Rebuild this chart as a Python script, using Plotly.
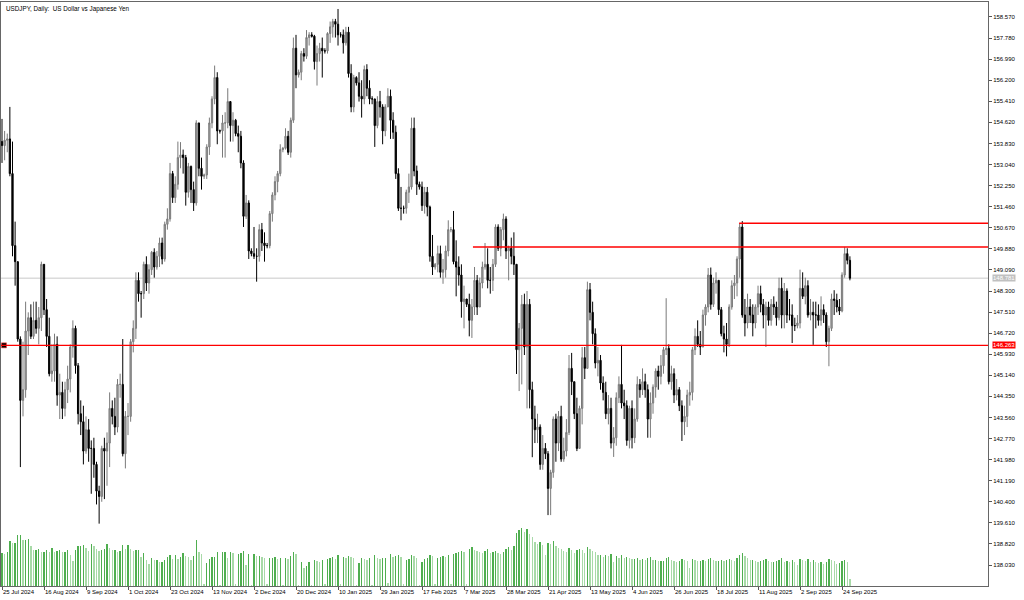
import plotly.graph_objects as go

# ---------------- data ----------------
date_tick_labels = ["25 Jul 2024", "16 Aug 2024", "9 Sep 2024", "1 Oct 2024", "23 Oct 2024",
                    "13 Nov 2024", "2 Dec 2024", "20 Dec 2024", "10 Jan 2025", "29 Jan 2025",
                    "17 Feb 2025", "7 Mar 2025", "28 Mar 2025", "21 Apr 2025", "13 May 2025",
                    "4 Jun 2025", "26 Jun 2025", "18 Jul 2025", "11 Aug 2025", "2 Sep 2025",
                    "24 Sep 2025"]
bars_per_date_tick = 16

price_tick_labels = ["158.570", "157.780", "156.990", "156.200", "155.410", "154.620", "153.830",
                     "153.040", "152.250", "151.460", "150.670", "149.880", "149.090", "148.300",
                     "147.510", "146.720", "145.930", "145.140", "144.350", "143.560", "142.770",
                     "141.980", "141.190", "140.400", "139.610", "138.820", "138.030"]

first_open = 153.90

highs = [
    154.75, 154.30, 154.20, 155.20, 153.90, 150.90, 149.40, 146.60, 146.40, 147.90,
    147.50, 147.80, 147.90, 147.90, 147.70, 149.40, 149.20, 148.00, 147.30, 146.30,
    146.70, 146.60, 145.20, 144.90, 144.90, 145.50, 146.30, 147.20, 147.00, 145.60,
    144.20, 144.00, 143.60, 143.50, 142.70, 142.80, 141.90, 141.00, 142.50, 142.80,
    143.00, 144.50, 144.20, 144.30, 145.00, 145.20, 146.50, 143.80, 144.10, 146.50,
    147.20, 149.00, 149.00, 148.30, 149.40, 149.60, 149.30, 149.80, 149.90, 149.80,
    150.30, 150.30, 150.90, 151.40, 153.10, 152.80, 152.60, 153.90, 153.88, 153.60,
    153.40, 153.10, 153.00, 152.40, 154.70, 154.60, 153.30, 152.70, 153.80, 154.80,
    155.60, 156.75, 156.50, 154.35, 154.90, 155.00, 155.90, 155.30, 155.00, 154.75,
    154.50, 154.30, 153.20, 151.90, 151.70, 149.90, 150.70, 149.90, 150.80, 150.85,
    150.50, 150.10, 151.30, 152.00, 152.60, 152.80, 153.80, 153.70, 154.40, 154.30,
    154.80, 157.80, 157.90, 156.60, 157.30, 157.40, 158.08, 158.00, 158.00, 157.90,
    157.50, 157.60, 157.80, 157.40, 158.00, 158.40, 158.50, 158.50, 158.87, 158.00,
    158.10, 158.20, 158.20, 156.80, 156.40, 156.35, 156.50, 156.20, 156.75, 156.80,
    156.20, 155.60, 155.50, 155.60, 155.80, 155.30, 155.30, 155.90, 155.85, 155.00,
    154.50, 152.90, 152.20, 151.50, 152.10, 152.70, 154.80, 154.80, 153.00, 152.40,
    152.40, 152.20, 152.20, 151.50, 150.40, 149.35, 150.00, 150.00, 149.50, 150.00,
    150.95, 150.70, 151.30, 150.20, 149.60, 149.30, 148.50, 148.00, 148.20, 148.00,
    149.20, 148.90, 148.80, 149.40, 150.10, 149.90, 149.20, 149.50, 150.80, 150.80,
    150.70, 151.20, 151.10, 150.00, 150.30, 150.50, 149.30, 147.10, 148.15, 148.20,
    148.30, 148.00, 144.90, 144.00, 143.70, 143.30, 142.90, 142.60, 142.30, 141.60,
    143.60, 143.70, 143.80, 144.00, 142.80, 143.50, 145.90, 145.98, 144.90, 144.30,
    144.00, 146.20, 146.20, 148.65, 148.60, 147.90, 146.90, 146.20, 145.90, 145.10,
    144.90, 144.40, 144.30, 143.20, 144.50, 145.10, 146.28, 144.60, 144.20, 144.00,
    144.20, 143.90, 145.10, 145.00, 145.40, 145.20, 144.80, 144.50, 144.80, 145.40,
    145.50, 145.90, 146.20, 148.03, 146.30, 145.50, 145.40, 145.00, 144.70, 144.20,
    144.00, 144.60, 144.90, 146.20, 146.90, 147.20, 146.80, 147.60, 147.80, 149.16,
    149.18, 148.80, 149.00, 148.70, 147.70, 147.00, 147.10, 147.80, 148.70, 148.90,
    149.60, 150.84, 150.92, 148.00, 148.20, 148.00, 147.80, 147.80, 148.50, 148.50,
    148.00, 147.90, 147.90, 148.00, 148.10, 147.90, 148.80, 148.80, 148.60, 148.40,
    148.00, 147.80, 147.30, 147.40, 149.10, 149.00, 148.80, 148.70, 148.00, 147.90,
    147.90, 147.80, 148.10, 147.80, 147.50, 147.00, 148.20, 148.33, 148.20, 148.00,
    149.00, 149.95, 149.90, 149.60,
]

lows = [
    153.10, 153.20, 153.50, 152.60, 149.60, 148.50, 146.40, 141.70, 143.60, 144.30,
    145.90, 146.50, 146.50, 146.70, 146.30, 146.80, 147.40, 146.20, 145.10, 144.90,
    144.90, 144.00, 143.50, 143.50, 143.60, 144.10, 144.50, 145.80, 145.20, 143.30,
    142.90, 141.80, 142.20, 141.90, 140.70, 141.30, 140.30, 139.58, 140.40, 140.50,
    141.00, 141.70, 143.30, 142.90, 143.00, 144.30, 142.10, 141.65, 142.90, 143.40,
    146.00, 146.50, 147.90, 147.30, 148.00, 148.30, 148.20, 148.90, 148.80, 149.10,
    149.20, 149.30, 149.40, 150.60, 150.90, 151.60, 151.60, 152.10, 152.90, 152.70,
    151.50, 151.80, 151.60, 151.30, 151.50, 152.60, 152.10, 152.50, 152.50, 153.40,
    154.40, 155.30, 153.80, 154.20, 153.30, 153.30, 154.40, 153.90, 153.90, 154.10,
    153.50, 152.90, 150.70, 151.00, 149.50, 149.60, 149.50, 148.65, 149.40, 149.80,
    149.40, 149.90, 149.90, 150.90, 151.70, 152.00, 152.60, 153.50, 153.60, 153.40,
    153.30, 154.60, 155.90, 156.30, 156.20, 156.90, 157.00, 157.50, 157.80, 156.60,
    156.00, 156.90, 156.30, 157.20, 157.20, 157.60, 157.80, 157.80, 157.50, 157.80,
    157.20, 157.50, 156.30, 155.00, 155.00, 156.00, 155.40, 154.80, 155.30, 155.60,
    155.30, 155.30, 153.70, 154.40, 154.80, 153.80, 154.10, 155.20, 154.00, 154.00,
    152.50, 151.30, 150.95, 151.20, 151.20, 151.60, 152.10, 152.60, 151.90, 152.10,
    151.30, 151.20, 151.10, 149.40, 148.90, 149.10, 149.00, 148.80, 148.57, 148.80,
    149.60, 150.50, 149.30, 148.10, 148.50, 147.30, 146.90, 147.70, 146.60, 146.54,
    147.40, 147.40, 147.70, 148.40, 149.10, 148.40, 148.20, 148.30, 149.20, 149.80,
    149.60, 150.20, 149.50, 148.70, 149.30, 148.90, 145.19, 144.55, 144.80, 145.90,
    143.90, 143.90, 142.07, 142.60, 142.60, 141.60, 141.60, 142.00, 139.90, 139.90,
    141.30, 141.90, 142.30, 141.90, 141.90, 142.10, 142.90, 144.40, 143.50, 142.30,
    142.40, 143.30, 145.00, 145.40, 147.20, 146.30, 145.40, 145.10, 144.60, 144.20,
    143.50, 143.30, 142.40, 142.08, 142.50, 144.10, 143.90, 143.50, 142.50, 142.40,
    142.40, 142.60, 143.40, 144.30, 144.40, 144.30, 142.80, 142.80, 143.70, 144.30,
    144.60, 144.80, 145.20, 145.90, 144.80, 144.60, 144.10, 144.20, 143.80, 142.68,
    142.90, 143.20, 144.00, 144.20, 145.90, 146.20, 145.90, 146.20, 147.00, 147.50,
    147.60, 147.70, 148.20, 147.40, 146.60, 146.00, 145.85, 146.20, 147.60, 148.00,
    148.10, 148.80, 147.30, 146.60, 146.90, 147.10, 146.60, 146.90, 147.40, 147.50,
    146.90, 146.20, 147.00, 147.00, 147.40, 147.00, 147.20, 146.90, 146.90, 147.10,
    147.20, 146.35, 146.80, 146.90, 146.90, 148.00, 147.80, 147.30, 147.20, 146.28,
    146.90, 147.00, 147.00, 147.10, 146.20, 145.48, 146.80, 147.40, 147.50, 147.40,
    147.50, 148.80, 149.30, 148.70,
]

closes = [
    153.75, 153.95, 154.00, 152.70, 150.00, 149.40, 146.50, 144.20, 144.60, 146.80,
    147.30, 146.60, 147.20, 146.90, 147.30, 149.30, 147.60, 146.60, 145.20, 145.30,
    146.30, 144.40, 144.50, 143.90, 144.60, 145.00, 146.20, 146.90, 145.50, 143.70,
    143.40, 142.30, 143.10, 142.40, 142.40, 141.80, 140.80, 140.60, 142.40, 142.30,
    142.60, 143.90, 143.60, 143.20, 144.80, 144.80, 142.20, 143.60, 143.60, 146.40,
    146.90, 148.70, 148.20, 148.20, 149.30, 148.60, 149.10, 149.75, 149.20, 149.60,
    150.10, 149.50, 150.80, 151.00, 152.70, 151.80, 152.30, 153.30, 153.40, 153.30,
    152.00, 152.97, 152.10, 151.60, 154.60, 152.90, 152.60, 152.65, 153.70, 154.60,
    155.50, 156.30, 154.30, 154.30, 154.60, 154.60, 155.40, 154.50, 154.70, 154.20,
    154.10, 153.10, 151.10, 151.60, 149.80, 149.70, 149.60, 149.60, 150.60, 150.10,
    150.00, 150.00, 151.20, 151.90, 152.40, 152.70, 153.60, 153.65, 154.10, 153.50,
    154.70, 157.40, 156.40, 156.50, 157.20, 157.10, 157.80, 157.90, 157.85, 156.90,
    157.20, 157.40, 157.30, 157.30, 157.95, 158.20, 158.40, 158.30, 157.90, 157.90,
    157.60, 158.00, 156.45, 155.20, 156.30, 156.10, 155.60, 155.50, 156.60, 155.90,
    155.50, 155.50, 154.50, 155.40, 155.20, 154.30, 155.20, 155.60, 154.70, 154.25,
    152.70, 151.40, 151.40, 151.40, 152.00, 152.20, 154.40, 152.80, 152.30, 152.20,
    151.50, 152.00, 151.45, 149.60, 149.20, 149.30, 149.70, 149.00, 149.10, 149.80,
    150.60, 150.60, 149.40, 149.20, 148.90, 147.90, 148.00, 147.80, 147.20, 147.70,
    148.70, 147.70, 148.60, 149.20, 149.30, 148.70, 148.70, 149.30, 150.70, 149.90,
    150.60, 151.00, 149.80, 149.90, 149.60, 149.30, 146.10, 146.90, 147.80, 146.20,
    147.80, 144.60, 143.50, 143.10, 143.20, 141.80, 142.40, 142.20, 140.90, 141.50,
    143.50, 142.60, 143.60, 142.00, 142.30, 143.00, 145.40, 144.90, 143.70, 142.40,
    143.90, 145.80, 145.40, 148.35, 147.50, 146.70, 145.60, 145.70, 144.85, 144.50,
    143.70, 143.90, 142.60, 142.80, 144.30, 144.80, 144.10, 144.00, 142.70, 143.90,
    142.80, 143.50, 144.80, 144.60, 144.90, 144.60, 143.50, 144.10, 144.70, 145.30,
    145.10, 145.50, 146.10, 146.15, 144.90, 145.20, 144.40, 144.60, 144.00, 143.40,
    143.60, 144.40, 144.50, 146.10, 146.60, 146.30, 146.20, 147.40, 147.70, 148.90,
    147.80, 148.60, 148.70, 147.60, 146.70, 146.50, 146.30, 147.70, 148.50, 148.60,
    149.50, 150.70, 147.40, 147.10, 147.70, 147.40, 147.10, 147.70, 148.20, 147.80,
    147.40, 147.70, 147.20, 147.80, 147.70, 147.30, 148.40, 147.40, 148.30, 147.40,
    147.40, 147.00, 147.00, 147.10, 148.40, 148.10, 148.50, 147.40, 147.50, 147.40,
    147.40, 147.20, 147.60, 147.40, 146.40, 146.90, 148.00, 147.95, 147.70, 147.55,
    148.90, 149.70, 149.45, 148.781,
]

# tick volume, thousands
volumes = [
    132, 130, 135, 180, 172, 172, 204, 205, 184, 184, 188, 160, 144, 144, 148, 136,
    136, 144, 136, 152, 136, 140, 144, 136, 136, 144, 124, 100, 144, 160, 160, 164,
    152, 140, 168, 160, 148, 140, 144, 148, 168, 152, 144, 144, 136, 140, 164, 148,
    164, 148, 140, 144, 144, 116, 132, 104, 88, 112, 104, 104, 96, 96, 104, 116,
    124, 108, 124, 108, 116, 132, 120, 116, 104, 120, 184, 136, 128, 8, 92, 108,
    116, 116, 136, 6, 136, 136, 112, 136, 132, 8, 128, 132, 140, 84, 128, 6,
    128, 120, 120, 116, 112, 8, 112, 112, 116, 108, 112, 6, 112, 108, 120, 136,
    128, 6, 96, 72, 80, 96, 6, 104, 100, 96, 104, 8, 108, 112, 116, 108,
    124, 8, 116, 112, 120, 116, 112, 6, 92, 112, 108, 104, 112, 6, 124, 112,
    108, 112, 112, 14, 128, 116, 120, 124, 116, 8, 104, 108, 124, 120, 112, 6,
    96, 108, 112, 124, 120, 8, 112, 116, 120, 116, 124, 8, 128, 132, 136, 140,
    136, 8, 148, 156, 144, 140, 136, 132, 140, 148, 132, 136, 140, 132, 128, 136,
    148, 156, 144, 160, 212, 224, 232, 216, 228, 208, 196, 176, 168, 176, 164, 124,
    172, 168, 180, 160, 152, 148, 140, 136, 152, 144, 132, 144, 148, 144, 132, 156,
    148, 140, 136, 124, 124, 116, 124, 120, 128, 96, 120, 112, 124, 112, 116, 112,
    108, 108, 112, 104, 108, 104, 112, 116, 104, 104, 100, 100, 100, 112, 116, 104,
    100, 96, 100, 108, 104, 100, 72, 108, 104, 100, 100, 104, 100, 108, 112, 104,
    100, 100, 104, 100, 104, 108, 104, 100, 112, 124, 132, 120, 112, 104, 104, 100,
    96, 100, 104, 108, 100, 96, 96, 100, 104, 112, 96, 100, 96, 104, 96, 84,
    108, 104, 100, 108, 96, 104, 96, 92, 96, 88, 96, 108, 104, 100, 88, 92,
    100, 104, 96, 28,
]

# horizontal levels drawn on the chart
level_prices = [146.263, 149.95, 150.84]
level_start_bar = [0.75, 179.4, 280.8]
level_labels = ["146.263", None, None]
bid_price = 148.781
bid_label = "148.781"

title_text = "USDJPY, Daily:\u00a0 US Dollar vs Japanese Yen"

# ---------------- figure ----------------
n = len(closes)
bar_index = list(range(n))
opens = [first_open] + closes[:-1]
highs = [max(h, o, c) for h, o, c in zip(highs, opens, closes)]
lows = [min(l, o, c) for l, o, c in zip(lows, opens, closes)]

vol_colors = []
for k, v in enumerate(volumes):
    prev = volumes[k - 1] if k > 0 else v
    vol_colors.append("#4fae4f" if v >= prev else "#a8daa8")

x_range = [-0.38, 375.6]
y_range = [137.243, 159.132]
vol_range = [0, 2336]
label_font = dict(family="Liberation Sans", size=6, color="#000000")

fig = go.Figure()

fig.add_trace(go.Bar(
    x=bar_index, y=volumes, yaxis="y2", width=0.5,
    marker=dict(color=vol_colors, line=dict(width=0)),
    hoverinfo="skip", showlegend=False,
))

fig.add_trace(go.Candlestick(
    x=bar_index, open=opens, high=highs, low=lows, close=closes,
    increasing=dict(line=dict(color="#7a7a7a", width=1), fillcolor="#a6a6a6"),
    decreasing=dict(line=dict(color="#000000", width=1), fillcolor="#000000"),
    whiskerwidth=0, showlegend=False, hoverinfo="skip",
))

shapes = [dict(type="line", xref="x", yref="y", x0=x_range[0], x1=x_range[1],
               y0=bid_price, y1=bid_price, line=dict(color="#c8c8c8", width=1), layer="below")]
for p, s in zip(level_prices, level_start_bar):
    x0 = x_range[0] if s < 1 else s
    shapes.append(dict(type="line", xref="x", yref="y", x0=x0, x1=x_range[1],
                       y0=p, y1=p, line=dict(color="#ff0000", width=1.3)))

fig.add_trace(go.Scatter(
    x=[level_start_bar[0]], y=[level_prices[0]], mode="markers",
    marker=dict(symbol="square", size=5, color="#000000", line=dict(color="#ff4040", width=0.6)),
    showlegend=False, hoverinfo="skip",
))

annotations = [
    dict(text=title_text, xref="paper", yref="paper", x=0, y=1, xanchor="left", yanchor="top",
         xshift=3, yshift=-1, showarrow=False,
         font=dict(family="Liberation Sans", size=6.3, color="#000000")),
    dict(text=bid_label, xref="paper", yref="y", x=1, y=bid_price, xanchor="left", yanchor="middle",
         xshift=4, showarrow=False, bgcolor="#c0c0c0", borderpad=0,
         font=dict(family="Liberation Sans", size=6, color="#ffffff")),
]
for p, lab in zip(level_prices, level_labels):
    if lab:
        annotations.append(dict(text=lab, xref="paper", yref="y", x=1, y=p, xanchor="left",
                                yanchor="middle", xshift=4, showarrow=False, bgcolor="#ff0000",
                                borderpad=0,
                                font=dict(family="Liberation Sans", size=6, color="#ffffff")))

fig.update_layout(
    width=1024, height=600,
    margin=dict(l=1, r=36, t=2, b=14, autoexpand=False),
    paper_bgcolor="#ffffff", plot_bgcolor="#ffffff",
    shapes=shapes, annotations=annotations,
    bargap=0, hovermode=False,
    xaxis=dict(
        range=x_range, rangeslider=dict(visible=False), showgrid=False, zeroline=False,
        tickvals=[k * bars_per_date_tick for k in range(len(date_tick_labels))],
        ticktext=date_tick_labels, ticks="outside", ticklen=3, tickcolor="#555555",
        ticklabelposition="outside right", tickangle=0, automargin=False,
        tickfont=label_font,
        showline=True, linecolor="#666666", linewidth=1, mirror=True,
    ),
    yaxis=dict(
        range=y_range, side="right", showgrid=False, zeroline=False,
        tickvals=[float(t) for t in price_tick_labels], ticktext=price_tick_labels,
        ticks="outside", ticklen=3, tickcolor="#555555", automargin=False,
        tickfont=label_font,
        showline=True, linecolor="#666666", linewidth=1, mirror=True,
    ),
    yaxis2=dict(range=vol_range, overlaying="y", visible=False, fixedrange=True),
)

fig.write_html(
    "out.html",
    config={"displayModeBar": False, "staticPlot": True},
    post_script="document.body.style.margin='0';document.body.style.overflow='hidden';",
)
